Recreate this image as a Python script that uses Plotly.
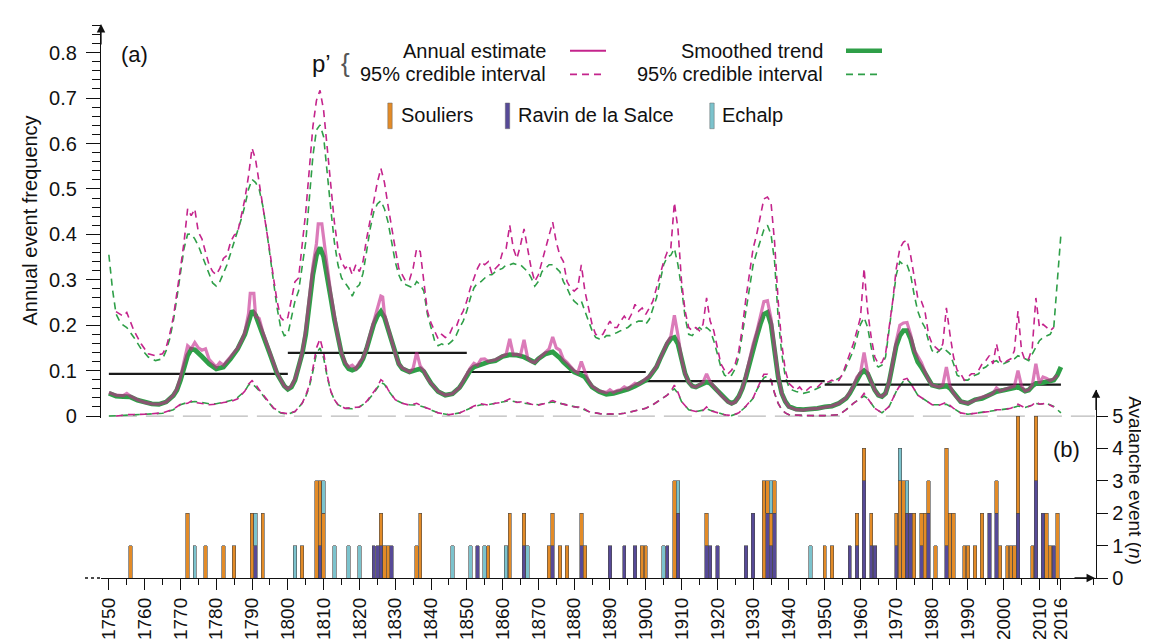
import plotly.graph_objects as go

# ---------------- DATA ----------------
# p' annual estimate (magenta) and its 95% credible interval
estimate = [(1750,.052),(1752,.046),(1754,.045),(1755,.050),(1756,.044),(1758,.036),(1760,.030),(1762,.027),(1764,.026),(1766,.031),(1768,.046),(1769,.060),(1770,.085),(1771,.120),(1772,.155),(1773,.148),(1774,.162),(1775,.150),(1776,.145),(1777,.148),(1778,.125),(1780,.108),(1781,.118),(1782,.112),(1783,.122),(1784,.130),(1785,.142),(1786,.150),(1787,.165),(1788,.185),(1789,.225),(1789.5,.270),(1790.5,.270),(1791,.220),(1792,.215),(1793,.185),(1795,.140),(1797,.095),(1799,.066),(1800,.060),(1801,.066),(1802,.082),(1803,.108),(1804,.140),(1805,.190),(1806,.260),(1807,.330),(1808,.380),(1808.5,.423),(1809.5,.423),(1810,.395),(1811,.330),(1812,.270),(1813,.218),(1814,.175),(1815,.138),(1816,.118),(1817,.108),(1818,.112),(1819,.104),(1820,.118),(1821,.128),(1822,.150),(1823,.180),(1824,.210),(1825,.235),(1826,.264),(1826.5,.262),(1827,.225),(1828,.195),(1829,.165),(1830,.138),(1831,.115),(1832,.106),(1834,.097),(1835,.105),(1836,.140),(1837,.110),(1838,.100),(1839,.083),(1840,.072),(1842,.054),(1844,.046),(1846,.049),(1848,.063),(1849,.076),(1850,.092),(1851,.106),(1852,.116),(1853,.112),(1854,.125),(1855,.126),(1856,.120),(1858,.124),(1859,.128),(1860,.132),(1861,.136),(1862,.170),(1863,.135),(1864,.136),(1865,.134),(1866,.168),(1867,.128),(1868,.120),(1869,.118),(1870,.126),(1872,.140),(1873,.148),(1874,.174),(1875,.150),(1876,.145),(1877,.125),(1878,.118),(1880,.100),(1881,.095),(1882,.120),(1883,.098),(1884,.078),(1885,.066),(1887,.055),(1889,.052),(1890,.058),(1891,.052),(1892,.056),(1893,.058),(1894,.064),(1895,.060),(1896,.066),(1897,.072),(1898,.070),(1899,.076),(1900,.082),(1901,.088),(1902,.098),(1903,.110),(1904,.126),(1905,.146),(1906,.162),(1907,.175),(1908,.222),(1909,.178),(1910,.125),(1911,.093),(1912,.075),(1913,.066),(1914,.064),(1916,.074),(1917,.093),(1918,.075),(1919,.064),(1920,.056),(1921,.046),(1922,.038),(1923,.031),(1924,.027),(1925,.031),(1926,.043),(1927,.062),(1928,.090),(1929,.125),(1930,.158),(1931,.185),(1932,.220),(1933,.252),(1934,.254),(1935,.215),(1936,.150),(1937,.088),(1938,.050),(1939,.032),(1940,.020),(1942,.014),(1944,.013),(1946,.016),(1948,.017),(1950,.020),(1952,.022),(1954,.028),(1956,.040),(1957,.052),(1958,.066),(1959,.086),(1960,.095),(1961,.140),(1962,.095),(1963,.075),(1964,.057),(1965,.046),(1966,.043),(1967,.050),(1968,.076),(1969,.118),(1970,.165),(1971,.200),(1972,.205),(1973,.206),(1974,.180),(1975,.145),(1976,.130),(1977,.118),(1978,.098),(1979,.080),(1980,.068),(1982,.064),(1983,.068),(1984,.108),(1985,.066),(1986,.050),(1987,.040),(1988,.032),(1990,.028),(1992,.036),(1994,.042),(1996,.046),(1997,.050),(1998,.062),(1999,.055),(2000,.058),(2002,.063),(2003,.066),(2004,.100),(2005,.066),(2006,.055),(2007,.058),(2008,.068),(2009,.115),(2010,.072),(2011,.086),(2012,.083),(2013,.078),(2014,.082),(2015,.090)]

estimate_hi = [(1752,.230),(1753,.224),(1754,.220),(1755,.228),(1757,.188),(1759,.159),(1761,.137),(1763,.133),(1765,.137),(1766,.151),(1767,.180),(1768,.217),(1769,.267),(1770,.325),(1771,.383),(1772,.456),(1773,.441),(1774,.456),(1775,.405),(1776,.390),(1777,.361),(1778,.333),(1779,.318),(1780,.311),(1781,.325),(1782,.347),(1783,.354),(1784,.383),(1785,.398),(1786,.405),(1787,.441),(1788,.478),(1789,.528),(1790,.590),(1791,.564),(1792,.514),(1793,.470),(1794,.420),(1795,.361),(1796,.304),(1797,.253),(1798,.217),(1799,.209),(1800,.217),(1801,.253),(1802,.296),(1803,.304),(1804,.376),(1805,.449),(1806,.543),(1807,.637),(1808,.695),(1809,.717),(1810,.673),(1811,.593),(1812,.507),(1813,.427),(1814,.369),(1815,.340),(1816,.325),(1817,.333),(1818,.311),(1819,.333),(1820,.318),(1821,.340),(1822,.390),(1823,.434),(1824,.478),(1825,.514),(1826,.545),(1827,.514),(1828,.463),(1829,.413),(1830,.369),(1831,.325),(1832,.311),(1833,.296),(1834,.300),(1835,.325),(1836,.369),(1837,.362),(1838,.296),(1839,.231),(1840,.205),(1841,.188),(1842,.170),(1843,.180),(1844,.173),(1845,.177),(1846,.195),(1847,.195),(1848,.217),(1849,.231),(1850,.253),(1851,.282),(1852,.304),(1853,.325),(1854,.340),(1855,.333),(1856,.340),(1857,.314),(1858,.325),(1859,.333),(1860,.361),(1861,.369),(1862,.420),(1863,.369),(1864,.347),(1865,.376),(1866,.412),(1867,.369),(1868,.325),(1869,.296),(1870,.311),(1871,.340),(1872,.369),(1873,.398),(1874,.427),(1875,.383),(1876,.354),(1877,.340),(1878,.296),(1879,.282),(1880,.275),(1881,.282),(1882,.333),(1883,.275),(1884,.238),(1885,.202),(1886,.180),(1887,.177),(1888,.180),(1889,.195),(1890,.209),(1891,.195),(1892,.195),(1893,.209),(1894,.220),(1895,.209),(1896,.224),(1897,.246),(1898,.231),(1899,.238),(1900,.224),(1901,.238),(1902,.253),(1903,.282),(1904,.311),(1905,.340),(1906,.361),(1907,.369),(1908,.470),(1909,.412),(1910,.296),(1911,.231),(1912,.195),(1913,.188),(1914,.195),(1915,.188),(1916,.202),(1917,.260),(1918,.209),(1919,.188),(1920,.151),(1921,.115),(1922,.101),(1923,.093),(1924,.101),(1925,.115),(1926,.144),(1927,.195),(1928,.260),(1929,.311),(1930,.369),(1931,.400),(1932,.440),(1933,.478),(1934,.482),(1935,.470),(1936,.383),(1937,.253),(1938,.159),(1939,.101),(1940,.072),(1941,.065),(1942,.057),(1943,.064),(1944,.054),(1945,.057),(1946,.064),(1947,.064),(1948,.064),(1949,.072),(1950,.075),(1951,.075),(1952,.079),(1953,.075),(1954,.079),(1955,.093),(1956,.115),(1957,.137),(1958,.159),(1959,.188),(1960,.217),(1961,.325),(1962,.231),(1963,.173),(1964,.130),(1965,.115),(1966,.118),(1967,.137),(1968,.195),(1969,.253),(1970,.325),(1971,.369),(1972,.383),(1973,.387),(1974,.354),(1975,.311),(1976,.260),(1977,.253),(1978,.231),(1979,.180),(1980,.159),(1981,.151),(1982,.144),(1983,.159),(1984,.238),(1985,.180),(1986,.130),(1987,.101),(1988,.093),(1989,.079),(1990,.086),(1991,.093),(1992,.093),(1993,.101),(1994,.115),(1995,.122),(1996,.133),(1997,.115),(1998,.159),(1999,.122),(2000,.115),(2001,.122),(2002,.126),(2003,.144),(2004,.231),(2005,.144),(2006,.122),(2007,.126),(2008,.151),(2009,.260),(2010,.195),(2011,.202),(2012,.195),(2013,.188),(2014,.195)]

estimate_lo = [(1752,.000),(1755,.003),(1760,.004),(1765,.007),(1768,.015),(1770,.026),(1772,.028),(1773,.033),(1774,.030),(1776,.028),(1778,.025),(1780,.026),(1782,.030),(1784,.032),(1786,.038),(1788,.055),(1789,.070),(1790,.078),(1791,.070),(1792,.058),(1794,.038),(1796,.018),(1798,.008),(1800,.005),(1802,.010),(1804,.028),(1805,.045),(1806,.068),(1807,.105),(1808,.150),(1809,.170),(1810,.140),(1811,.090),(1812,.055),(1813,.036),(1814,.025),(1816,.017),(1818,.018),(1820,.020),(1822,.032),(1824,.052),(1825,.064),(1826,.080),(1827,.074),(1828,.058),(1830,.036),(1832,.028),(1834,.024),(1836,.028),(1838,.020),(1840,.014),(1842,.007),(1845,.003),(1848,.007),(1850,.014),(1852,.022),(1854,.027),(1856,.024),(1858,.028),(1860,.030),(1862,.038),(1864,.030),(1866,.032),(1868,.026),(1870,.024),(1872,.028),(1874,.034),(1876,.028),(1878,.024),(1880,.020),(1882,.020),(1884,.010),(1886,.007),(1888,.004),(1890,.005),(1892,.004),(1894,.006),(1896,.010),(1898,.013),(1900,.017),(1902,.025),(1904,.036),(1906,.046),(1907,.054),(1908,.068),(1909,.052),(1910,.032),(1912,.014),(1914,.010),(1916,.012),(1917,.020),(1918,.012),(1920,.008),(1922,.003),(1924,.001),(1926,.007),(1928,.022),(1930,.040),(1931,.058),(1932,.074),(1933,.092),(1934,.092),(1935,.080),(1936,.050),(1937,.028),(1938,.014),(1939,.007),(1940,.003),(1945,.001),(1950,.001),(1954,.003),(1956,.014),(1958,.028),(1960,.039),(1961,.050),(1962,.039),(1964,.017),(1966,.007),(1968,.021),(1970,.054),(1972,.080),(1973,.083),(1974,.072),(1976,.046),(1978,.036),(1980,.025),(1982,.024),(1984,.030),(1986,.017),(1988,.007),(1990,.004),(1992,.006),(1994,.008),(1996,.010),(1998,.014),(2000,.014),(2002,.017),(2004,.026),(2006,.018),(2008,.024),(2009,.032),(2010,.026),(2012,.028),(2014,.020)]

# smoothed trend (green) and its 95% credible interval
trend = [(1750,.050),(1752,.044),(1754,.043),(1756,.042),(1758,.035),(1760,.030),(1762,.027),(1764,.026),(1766,.031),(1768,.045),(1769,.057),(1770,.079),(1771,.108),(1772,.133),(1773,.147),(1774,.146),(1776,.131),(1778,.115),(1780,.104),(1782,.108),(1784,.126),(1786,.148),(1788,.180),(1789,.208),(1790,.232),(1791,.222),(1792,.202),(1793,.180),(1795,.137),(1797,.093),(1799,.066),(1800,.059),(1801,.064),(1802,.079),(1803,.104),(1804,.137),(1805,.180),(1806,.246),(1807,.311),(1808,.354),(1809,.371),(1810,.351),(1811,.311),(1812,.260),(1813,.213),(1814,.173),(1815,.137),(1816,.115),(1817,.104),(1818,.101),(1819,.104),(1820,.112),(1821,.126),(1822,.148),(1823,.177),(1824,.202),(1825,.220),(1826,.230),(1827,.217),(1828,.191),(1829,.162),(1830,.137),(1831,.115),(1832,.104),(1834,.097),(1836,.102),(1837,.104),(1838,.098),(1839,.083),(1840,.072),(1842,.054),(1844,.046),(1846,.049),(1848,.063),(1849,.075),(1850,.090),(1851,.101),(1852,.108),(1854,.114),(1856,.119),(1858,.122),(1860,.131),(1862,.135),(1864,.134),(1866,.130),(1868,.120),(1869,.118),(1870,.126),(1872,.137),(1874,.141),(1875,.136),(1876,.128),(1877,.119),(1878,.112),(1880,.097),(1882,.090),(1883,.086),(1884,.075),(1885,.064),(1887,.054),(1889,.048),(1891,.050),(1893,.054),(1895,.059),(1897,.066),(1899,.073),(1900,.079),(1901,.086),(1902,.097),(1903,.108),(1904,.126),(1905,.144),(1906,.159),(1907,.170),(1908,.173),(1909,.159),(1910,.122),(1911,.093),(1912,.075),(1913,.066),(1914,.064),(1916,.072),(1917,.075),(1918,.072),(1919,.064),(1920,.056),(1921,.046),(1922,.039),(1923,.032),(1924,.028),(1925,.032),(1926,.043),(1927,.061),(1928,.086),(1929,.119),(1930,.150),(1931,.175),(1932,.202),(1933,.224),(1934,.228),(1935,.202),(1936,.144),(1937,.086),(1938,.050),(1939,.032),(1940,.021),(1942,.015),(1944,.014),(1946,.015),(1948,.017),(1950,.020),(1952,.022),(1954,.028),(1956,.039),(1957,.050),(1958,.064),(1959,.083),(1960,.093),(1961,.100),(1962,.093),(1963,.075),(1964,.057),(1965,.046),(1966,.043),(1967,.050),(1968,.075),(1969,.115),(1970,.155),(1971,.177),(1972,.188),(1973,.188),(1974,.170),(1975,.141),(1976,.119),(1977,.108),(1978,.093),(1979,.079),(1980,.068),(1982,.064),(1984,.066),(1985,.061),(1986,.050),(1987,.039),(1988,.032),(1990,.028),(1992,.036),(1994,.039),(1996,.046),(1998,.054),(2000,.057),(2002,.061),(2004,.064),(2006,.055),(2007,.057),(2008,.066),(2009,.072),(2010,.072),(2012,.075),(2013,.076),(2014,.079),(2015,.090),(2016,.108)]

trend_hi = [(1750,.355),(1751,.280),(1752,.225),(1753,.209),(1754,.200),(1755,.195),(1757,.173),(1759,.148),(1761,.130),(1763,.122),(1765,.126),(1766,.144),(1767,.170),(1768,.209),(1769,.260),(1770,.314),(1771,.369),(1772,.400),(1773,.401),(1774,.390),(1775,.375),(1776,.354),(1777,.333),(1778,.311),(1779,.293),(1780,.286),(1781,.296),(1782,.314),(1783,.333),(1784,.358),(1785,.383),(1786,.405),(1787,.434),(1788,.463),(1789,.499),(1790,.521),(1791,.514),(1792,.499),(1793,.463),(1794,.413),(1795,.355),(1796,.297),(1797,.238),(1798,.195),(1799,.177),(1800,.180),(1801,.217),(1802,.253),(1803,.275),(1804,.325),(1805,.383),(1806,.478),(1807,.572),(1808,.630),(1809,.641),(1810,.615),(1811,.528),(1812,.456),(1813,.383),(1814,.333),(1815,.304),(1816,.293),(1817,.282),(1818,.264),(1819,.282),(1820,.289),(1821,.314),(1822,.362),(1823,.412),(1824,.449),(1825,.467),(1826,.474),(1827,.456),(1828,.427),(1829,.383),(1830,.340),(1831,.311),(1832,.293),(1833,.289),(1834,.286),(1835,.282),(1836,.296),(1837,.289),(1838,.275),(1839,.224),(1840,.195),(1841,.166),(1842,.155),(1843,.159),(1844,.155),(1845,.159),(1846,.166),(1847,.177),(1848,.195),(1849,.209),(1850,.231),(1851,.260),(1852,.282),(1853,.293),(1854,.296),(1855,.304),(1856,.311),(1857,.311),(1858,.318),(1859,.322),(1860,.325),(1861,.333),(1862,.333),(1863,.336),(1864,.333),(1865,.333),(1866,.325),(1867,.318),(1868,.304),(1869,.286),(1870,.296),(1871,.318),(1872,.325),(1873,.333),(1874,.333),(1875,.325),(1876,.318),(1877,.296),(1878,.282),(1879,.264),(1880,.253),(1881,.246),(1882,.253),(1883,.231),(1884,.209),(1885,.188),(1886,.173),(1887,.170),(1888,.170),(1889,.177),(1890,.177),(1891,.180),(1892,.184),(1893,.188),(1894,.191),(1895,.195),(1896,.202),(1897,.206),(1898,.209),(1899,.209),(1900,.202),(1901,.213),(1902,.235),(1903,.260),(1904,.296),(1905,.333),(1906,.350),(1907,.354),(1908,.369),(1909,.333),(1910,.282),(1911,.217),(1912,.180),(1913,.177),(1914,.188),(1915,.195),(1916,.188),(1917,.195),(1918,.188),(1919,.166),(1920,.137),(1921,.108),(1922,.090),(1923,.086),(1924,.090),(1925,.104),(1926,.130),(1927,.180),(1928,.231),(1929,.282),(1930,.333),(1931,.360),(1932,.385),(1933,.410),(1934,.420),(1935,.400),(1936,.340),(1937,.217),(1938,.137),(1939,.086),(1940,.064),(1941,.057),(1942,.054),(1944,.050),(1946,.054),(1948,.061),(1950,.068),(1952,.075),(1954,.083),(1955,.090),(1956,.108),(1957,.122),(1958,.144),(1959,.173),(1960,.202),(1961,.217),(1962,.195),(1963,.151),(1964,.115),(1965,.108),(1966,.112),(1967,.130),(1968,.188),(1969,.253),(1970,.311),(1971,.340),(1972,.333),(1973,.333),(1974,.311),(1975,.267),(1976,.231),(1977,.209),(1978,.195),(1979,.166),(1980,.144),(1981,.137),(1982,.144),(1983,.151),(1984,.144),(1985,.137),(1986,.115),(1987,.090),(1988,.086),(1989,.079),(1990,.079),(1991,.086),(1992,.090),(1993,.093),(1994,.104),(1995,.108),(1996,.115),(1997,.119),(1998,.122),(1999,.115),(2000,.115),(2001,.119),(2002,.122),(2003,.126),(2004,.133),(2005,.130),(2006,.126),(2007,.122),(2008,.137),(2009,.151),(2010,.166),(2011,.173),(2012,.177),(2013,.180),(2014,.195),(2015,.300),(2016,.400)]

trend_lo = [(1750,.000),(1755,.002),(1760,.003),(1765,.006),(1768,.014),(1770,.025),(1772,.030),(1774,.032),(1776,.030),(1778,.027),(1780,.027),(1782,.030),(1784,.034),(1786,.041),(1788,.055),(1789,.068),(1790,.072),(1791,.064),(1792,.056),(1794,.036),(1796,.017),(1798,.007),(1800,.004),(1802,.010),(1804,.028),(1805,.043),(1806,.064),(1807,.098),(1808,.138),(1809,.150),(1810,.128),(1811,.086),(1812,.054),(1813,.036),(1814,.025),(1816,.017),(1818,.016),(1820,.020),(1822,.031),(1824,.050),(1825,.061),(1826,.074),(1827,.070),(1828,.057),(1830,.036),(1832,.028),(1834,.025),(1836,.024),(1838,.020),(1840,.014),(1842,.007),(1845,.003),(1848,.007),(1850,.014),(1852,.021),(1854,.025),(1856,.025),(1858,.028),(1860,.031),(1862,.034),(1864,.031),(1866,.028),(1868,.026),(1870,.025),(1872,.028),(1874,.031),(1876,.028),(1878,.025),(1880,.021),(1882,.017),(1884,.010),(1886,.007),(1888,.004),(1890,.004),(1892,.004),(1894,.006),(1896,.010),(1898,.014),(1900,.017),(1902,.025),(1904,.036),(1906,.046),(1907,.054),(1908,.060),(1909,.050),(1910,.032),(1912,.014),(1914,.010),(1916,.013),(1917,.016),(1918,.013),(1920,.008),(1922,.003),(1924,.001),(1926,.007),(1928,.021),(1930,.039),(1931,.057),(1932,.072),(1933,.084),(1934,.088),(1935,.079),(1936,.050),(1937,.028),(1938,.014),(1939,.007),(1940,.003),(1945,.001),(1950,.001),(1954,.003),(1956,.014),(1958,.028),(1960,.039),(1961,.044),(1962,.039),(1964,.017),(1966,.007),(1968,.021),(1970,.054),(1972,.077),(1973,.081),(1974,.072),(1976,.046),(1978,.036),(1980,.025),(1982,.025),(1984,.026),(1986,.017),(1988,.007),(1990,.004),(1992,.006),(1994,.008),(1996,.010),(1998,.013),(2000,.014),(2002,.017),(2004,.022),(2006,.019),(2008,.024),(2009,.028),(2010,.026),(2012,.028),(2014,.021),(2016,.007)]

# mean frequency per period (black segments)
period_start = [1750, 1800, 1850, 1900, 1950]
period_end = [1800, 1850, 1900, 1950, 2016]
period_mean = [0.093, 0.139, 0.097, 0.077, 0.069]

# avalanche events per year and per path (panel b)
ravin_years = [1791,1809,1824,1825,1826,1829,1853,1866,1874,1882,1890,1894,1897,1906,1909,1917,1918,1920,1928,1930,1934,1935,1936,1957,1959,1961,1963,1964,1970,1973,1974,1977,1979,1984,1996,1998,2004,2009,2011,2014]
ravin_n     = [1,1,1,1,1,1,1,1,1,1,1,1,1,1,2,1,1,1,1,2,2,1,2,1,1,3,1,1,1,2,2,1,2,1,2,2,2,3,2,1]
souliers_years = [1756,1772,1777,1782,1785,1790,1793,1804,1808,1809,1810,1826,1827,1828,1836,1837,1856,1862,1866,1873,1874,1876,1878,1882,1883,1899,1900,1908,1917,1933,1934,1935,1936,1950,1952,1959,1961,1963,1970,1971,1972,1975,1977,1978,1979,1981,1984,1985,1986,1989,1990,1992,1994,1998,1999,2001,2002,2003,2004,2008,2009,2012,2013,2015]
souliers_n     = [1,2,1,1,1,2,2,1,3,2,2,1,1,1,1,2,1,2,1,1,1,1,1,1,1,1,1,3,1,3,1,1,1,1,1,1,1,1,1,3,3,2,1,2,1,1,3,2,2,1,1,1,2,1,1,1,1,1,3,1,2,2,1,2]
echalp_years = [1774,1791,1802,1810,1813,1817,1820,1846,1851,1855,1861,1867,1905,1909,1935,1946,1971,1973]
echalp_n     = [1,1,1,1,1,1,1,1,1,1,1,1,1,1,1,1,1,1]

xtick_years = [1750,1760,1770,1780,1790,1800,1810,1820,1830,1840,1850,1860,1870,1880,1890,1900,1910,1920,1930,1940,1950,1960,1970,1980,1990,2000,2010,2016]

# ---------------- LAYOUT GEOMETRY ----------------
W, H = 1149, 644
ML, MR, MT, MB = 93, 61, 17, 67
PW, PH = W - ML - MR, H - MT - MB
XR = [1747.8, 2025.8]
FONT = "Liberation Sans, Arial, sans-serif"

def px(p):
    return (p - ML) / PW

def py(p):
    return (H - MB - p) / PH

MAG = "#c4248c"
GRN = "#2f9f48"
ORA = "#e38b27"
PUR = "#574a97"
TEA = "#7cc3cd"

def split(pairs):
    return [a for a, _ in pairs], [b for _, b in pairs]

fig = go.Figure()
DASH = "7px,5px"

for pairs, col in [(trend_hi, GRN), (trend_lo, GRN), (estimate_hi, MAG), (estimate_lo, MAG)]:
    xs, ys = split(pairs)
    fig.add_trace(go.Scatter(x=xs, y=ys, mode="lines", xaxis="x", yaxis="y",
                             line=dict(color=col, width=1.6, dash=DASH), hoverinfo="skip"))

# period means
mx, my = [], []
for s, e, m in zip(period_start, period_end, period_mean):
    mx += [s, e, None]
    my += [m, m, None]
fig.add_trace(go.Scatter(x=mx, y=my, mode="lines", xaxis="x", yaxis="y",
                         line=dict(color="#1a1a1a", width=2.2), hoverinfo="skip"))

xs, ys = split(trend)
fig.add_trace(go.Scatter(x=xs, y=ys, mode="lines", xaxis="x", yaxis="y",
                         line=dict(color=GRN, width=4.8), hoverinfo="skip"))
xs, ys = split(estimate)
fig.add_trace(go.Scatter(x=xs, y=ys, mode="lines", xaxis="x", yaxis="y", opacity=0.6,
                         line=dict(color=MAG, width=3.2), hoverinfo="skip"))

# bars (stacked: Ravin at bottom, then Souliers, then Echalp)
for yrs, n, col in [(ravin_years, ravin_n, PUR), (souliers_years, souliers_n, ORA), (echalp_years, echalp_n, TEA)]:
    fig.add_trace(go.Bar(x=yrs, y=n, xaxis="x", yaxis="y2", width=0.95,
                         marker=dict(color=col, line=dict(color="#4a4a4a", width=0.6)),
                         hoverinfo="skip"))

ytop_lo = (413 - 415) / 460.0
ytop_hi = (413 - 17) / 460.0

fig.update_layout(
    width=W, height=H,
    margin=dict(l=ML, r=MR, t=MT, b=MB),
    paper_bgcolor="white", plot_bgcolor="rgba(0,0,0,0)",
    showlegend=False, barmode="stack",
    font=dict(family=FONT, size=20, color="#111"),
    xaxis=dict(domain=[0, 1], range=XR, anchor="y2", showgrid=False, zeroline=False,
               showline=True, linecolor="#111", linewidth=1.3,
               tickmode="array", tickvals=xtick_years, ticktext=[str(v) for v in xtick_years],
               tickangle=-90, ticks="outside", ticklen=11, tickwidth=1.2, tickcolor="#111",
               tickfont=dict(size=19, family=FONT, color="#111"),
               minor=dict(tickmode="linear", tick0=1755, dtick=10, ticks="outside", ticklen=6,
                          tickwidth=1, tickcolor="#111", showgrid=False)),
    yaxis=dict(domain=[py(415), 1], range=[ytop_lo, ytop_hi], anchor="x", side="left",
               showgrid=False, zeroline=False, showline=True, linecolor="#111", linewidth=1.3,
               tickmode="array", tickvals=[0, .1, .2, .3, .4, .5, .6, .7, .8],
               ticktext=["0", "0.1", "0.2", "0.3", "0.4", "0.5", "0.6", "0.7", "0.8"],
               ticks="outside", ticklen=14, tickwidth=1.2, tickcolor="#111",
               ticklabelstandoff=5,
               tickfont=dict(size=20, family=FONT, color="#111"),
               minor=dict(tickmode="linear", tick0=0, dtick=0.02, ticks="outside", ticklen=8,
                          tickwidth=1, tickcolor="#111", showgrid=False)),
    yaxis2=dict(domain=[0, py(387)], range=[0, (577 - 387) / 32.8], anchor="x", side="right",
                showgrid=False, zeroline=False, showline=True, linecolor="#111", linewidth=1.3,
                tickmode="array", tickvals=[0, 1, 2, 3, 4, 5],
                ticks="outside", ticklen=11, tickwidth=1.2, tickcolor="#111",
                tickfont=dict(size=20, family=FONT, color="#111")),
)

shapes = []
# gray dashed zero line of panel (a)
shapes.append(dict(type="line", xref="x", yref="y", x0=1750, x1=XR[1] - 0.3, y0=0, y1=0,
                   line=dict(color="#b9b9b9", width=1.3, dash="28px,9px"), layer="below"))
# dotted left extension of time axis
shapes.append(dict(type="line", xref="paper", yref="paper", x0=px(77), x1=px(94), y0=0, y1=0,
                   line=dict(color="#111", width=1.5, dash="dot")))
# legend samples
shapes.append(dict(type="line", xref="paper", yref="paper", x0=px(562), x1=px(598), y0=py(43), y1=py(43),
                   line=dict(color=MAG, width=2)))
shapes.append(dict(type="line", xref="paper", yref="paper", x0=px(562), x1=px(598), y0=py(67), y1=py(67),
                   line=dict(color=MAG, width=1.6, dash="7px,5px")))
shapes.append(dict(type="line", xref="paper", yref="paper", x0=px(838), x1=px(874), y0=py(43), y1=py(43),
                   line=dict(color=GRN, width=4.5)))
shapes.append(dict(type="line", xref="paper", yref="paper", x0=px(838), x1=px(874), y0=py(67), y1=py(67),
                   line=dict(color=GRN, width=1.6, dash="7px,5px")))
for xc, col in [(382, ORA), (499.5, PUR), (704, TEA)]:
    shapes.append(dict(type="rect", xref="paper", yref="paper", x0=px(xc - 2.2), x1=px(xc + 2.2),
                       y0=py(122), y1=py(96), fillcolor=col, line=dict(color="#666", width=0.5)))
fig.update_layout(shapes=shapes)

ann = []
def text(x, y, s, size=20, xanchor="center", angle=0, color="#111"):
    ann.append(dict(xref="paper", yref="paper", x=px(x), y=py(y), text=s, showarrow=False,
                    xanchor=xanchor, yanchor="middle", textangle=angle,
                    font=dict(family=FONT, size=size, color=color)))

def arrow(xt, yt, ax, ay):
    ann.append(dict(xref="paper", yref="paper", x=px(xt), y=py(yt), ax=ax, ay=ay, text="",
                    showarrow=True, arrowhead=2, arrowsize=1.3, arrowwidth=1.3, arrowcolor="#111"))

text(126, 47, "(a)", size=22)
text(1058, 447, "(b)", size=22)
text(22, 215, "Annual event frequency", angle=-90)
text(1128, 478, "Avalanche event (<i>n</i>)", size=19, angle=90)
text(313, 56, "p’", size=24)
text(337, 55, "{", size=26, color="#555")
text(540, 43, "Annual estimate", xanchor="right")
text(540, 67, "95% credible interval", xanchor="right")
text(817, 43, "Smoothed trend", xanchor="right")
text(817, 67, "95% credible interval", xanchor="right")
text(391, 108, "Souliers", xanchor="left")
text(508, 108, "Ravin de la Salce", xanchor="left")
text(712, 108, "Echalp", xanchor="left")

arrow(93, 16, 0, 22)
arrow(1088, 386, 0, 22)
arrow(1087, 577, -22, 0)
fig.update_layout(annotations=ann)

fig.write_html("out.html")
